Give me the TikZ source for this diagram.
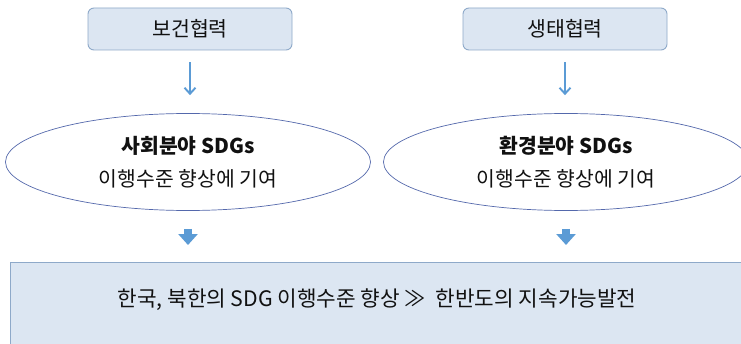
\documentclass[tikz,border=0pt]{standalone}
\usepackage{fontspec}
\setmainfont{Noto Sans CJK KR}
\newfontfamily\kr{Noto Sans CJK KR}
\usetikzlibrary{arrows.meta,shapes.geometric}
\definecolor{boxfill}{HTML}{DCE6F2}
\definecolor{boxline}{HTML}{8EA9C9}
\definecolor{ellline}{HTML}{5468AC}
\definecolor{arr}{HTML}{5B9BD5}
\definecolor{txt}{HTML}{111111}
\tikzset{
  topbox/.style={draw=boxline, fill=boxfill, rounded corners=6pt, line width=0.9pt,
    minimum width=204pt, minimum height=42pt, inner sep=0pt, text=txt, font=\kr\fontsize{20.5}{22}\selectfont},
  ell/.style={draw=ellline, fill=white, ellipse, line width=0.7pt,
    minimum width=365pt, minimum height=97pt, inner sep=0pt, text=txt, align=center,
    font=\kr\fontsize{20.4}{33}\selectfont},
  bigbox/.style={draw=boxline, fill=boxfill, line width=0.9pt, inner sep=0pt},
  thinarrow/.style={draw=arr, line width=1.9pt, -{Straight Barb[length=6pt,width=11pt]}},
  blockarrow/.style={draw=arr, line width=8pt, -{Triangle[length=11pt,width=19pt]}},
}
\begin{document}
\begin{tikzpicture}[x=1pt,y=1pt]
\clip (0,0) rectangle (741,343);
\fill[white] (0,0) rectangle (741,343);
\node[topbox] (b1) at (190,314) {보건협력};
\node[topbox] (b2) at (565,314) {생태협력};
\node[ell] (e1) at (188,181) {\textbf{사회분야 SDGs}\\이행수준 향상에 기여};
\node[ell] (e2) at (566,181) {\textbf{환경분야 SDGs}\\이행수준 향상에 기여};
\node[bigbox, minimum width=760pt, minimum height=100pt, anchor=north west] (bot) at (10,81) {};
\node[text=txt, font=\kr\fontsize{21.3}{22}\selectfont] (btxt) at (377,43) {한국, 북한의 SDG 이행수준 향상 ≫\ \ 한반도의 지속가능발전};
\draw[thinarrow] ([yshift=-12pt]b1.south) -- ([yshift=18pt]e1.north -| b1.south);
\draw[thinarrow] ([yshift=-12pt]b2.south) -- ([yshift=18pt]e2.north -| b2.south);
\draw[blockarrow] ([yshift=-18pt]e1.south) -- ([yshift=17pt]bot.north -| e1.south);
\draw[blockarrow] ([yshift=-18pt]e2.south) -- ([yshift=17pt]bot.north -| e2.south);
\end{tikzpicture}
\end{document}
